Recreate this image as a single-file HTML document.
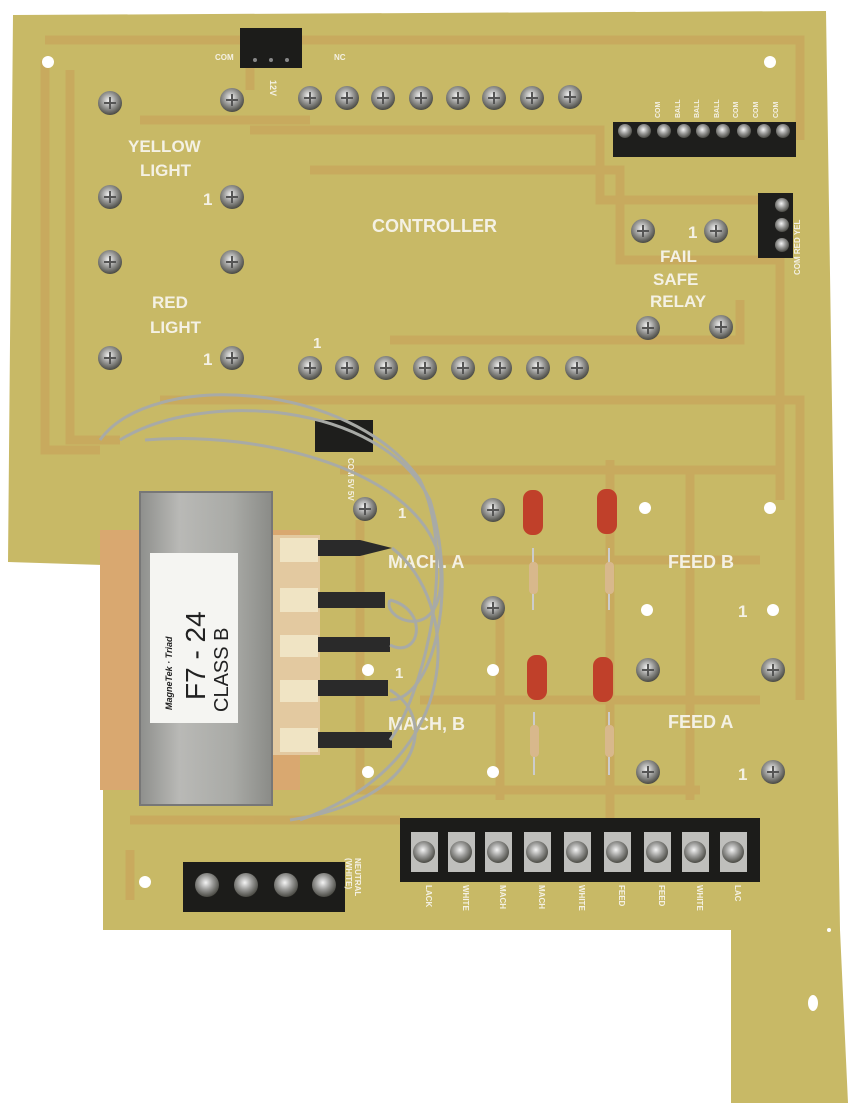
<!DOCTYPE html>
<html><head><meta charset="utf-8"><style>
html,body{margin:0;padding:0;background:#fff;}
svg{display:block}
text{font-family:"Liberation Sans",sans-serif;font-weight:bold;fill:#f4f1e4}
</style></head><body>
<svg width="854" height="1106" viewBox="0 0 854 1106" xmlns="http://www.w3.org/2000/svg">
<defs>
<radialGradient id="scr" cx="45%" cy="40%" r="60%">
<stop offset="0" stop-color="#f4f4f4"/><stop offset="0.5" stop-color="#9a9a98"/><stop offset="1" stop-color="#4a4a44"/>
</radialGradient>
<linearGradient id="metal" x1="0" y1="0" x2="1" y2="0">
<stop offset="0" stop-color="#8e8f8c"/><stop offset="0.3" stop-color="#b9b9b6"/><stop offset="0.7" stop-color="#a9aaa6"/><stop offset="1" stop-color="#8a8b87"/>
</linearGradient>
<g id="s"><circle r="12" fill="url(#scr)"/><path d="M-6 0H6M0 -6V6" stroke="#555" stroke-width="2"/></g>
<g id="h"><circle r="6" fill="#fff"/></g>
</defs>
<polygon points="13,15 826,11 840,930 848,1103 731,1103 731,930 103,930 103,565 8,562" fill="#c8b966"/>
<g fill="none" stroke="#c99a55" stroke-width="9" opacity="0.45">
<path d="M45 40 H800 V140"/>
<path d="M70 70 V440 H120"/>
<path d="M45 60 V450 H100"/>
<path d="M250 60 V90 M250 130 H600 V200 H760"/>
<path d="M140 120 H310 M310 170 H620 V260 H780 V500"/>
<path d="M160 400 H800 V700"/>
<path d="M390 340 H740 V300"/>
<path d="M340 470 H780 M360 520 V790 H700"/>
<path d="M420 560 H760 M420 700 H760 M500 600 V800"/>
<path d="M610 460 V820 M690 470 V800"/>
<path d="M130 820 H400 M130 850 V900"/>
</g>
<rect x="240" y="28" width="62" height="40" fill="#1c1c1a"/>
<circle cx="255" cy="60" r="2" fill="#888"/><circle cx="271" cy="60" r="2" fill="#888"/><circle cx="287" cy="60" r="2" fill="#888"/>
<text x="215" y="60" font-size="8">COM</text><text x="334" y="60" font-size="8">NC</text>
<text x="0" y="0" font-size="9" transform="translate(270,80) rotate(90)">12V</text>
<g>
<use href="#s" x="110" y="103"/><use href="#s" x="232" y="100"/>
<use href="#s" x="110" y="197"/><use href="#s" x="232" y="197"/>
<use href="#s" x="110" y="262"/><use href="#s" x="232" y="262"/>
<use href="#s" x="110" y="358"/><use href="#s" x="232" y="358"/>
<use href="#s" x="310" y="98"/><use href="#s" x="347" y="98"/><use href="#s" x="383" y="98"/><use href="#s" x="421" y="98"/><use href="#s" x="458" y="98"/><use href="#s" x="494" y="98"/><use href="#s" x="532" y="98"/><use href="#s" x="570" y="97"/>
<use href="#s" x="310" y="368"/><use href="#s" x="347" y="368"/><use href="#s" x="386" y="368"/><use href="#s" x="425" y="368"/><use href="#s" x="463" y="368"/><use href="#s" x="500" y="368"/><use href="#s" x="538" y="368"/><use href="#s" x="577" y="368"/>
<use href="#s" x="643" y="231"/><use href="#s" x="716" y="231"/><use href="#s" x="648" y="328"/><use href="#s" x="721" y="327"/>
<use href="#s" x="365" y="509"/><use href="#s" x="493" y="510"/><use href="#s" x="493" y="608"/>
<use href="#s" x="648" y="670"/><use href="#s" x="773" y="670"/><use href="#s" x="648" y="772"/><use href="#s" x="773" y="772"/>
</g>
<g>
<use href="#h" x="48" y="62"/><use href="#h" x="770" y="62"/><use href="#h" x="770" y="508"/><use href="#h" x="645" y="508"/>
<use href="#h" x="647" y="610"/><use href="#h" x="773" y="610"/><use href="#h" x="493" y="670"/><use href="#h" x="368" y="670"/>
<use href="#h" x="493" y="772"/><use href="#h" x="368" y="772"/><use href="#h" x="145" y="882"/>
<ellipse cx="813" cy="1003" rx="5" ry="8" fill="#fff"/><circle cx="829" cy="930" r="2" fill="#fff"/>
</g>
<text x="128" y="152" font-size="17">YELLOW</text><text x="140" y="176" font-size="17">LIGHT</text>
<text x="203" y="205" font-size="17">1</text><text x="203" y="365" font-size="17">1</text>
<text x="152" y="308" font-size="17">RED</text><text x="150" y="333" font-size="17">LIGHT</text>
<text x="372" y="232" font-size="18">CONTROLLER</text>
<text x="313" y="348" font-size="15">1</text>
<text x="688" y="238" font-size="17">1</text>
<text x="660" y="262" font-size="17">FAIL</text><text x="653" y="285" font-size="17">SAFE</text><text x="650" y="307" font-size="17">RELAY</text>
<text x="388" y="568" font-size="18">MACH.  A</text><text x="388" y="730" font-size="18">MACH,  B</text>
<text x="668" y="568" font-size="18">FEED  B</text><text x="668" y="728" font-size="18">FEED  A</text>
<text x="398" y="518" font-size="15">1</text><text x="738" y="617" font-size="17">1</text>
<text x="395" y="678" font-size="15">1</text><text x="738" y="780" font-size="17">1</text>
<rect x="613" y="122" width="183" height="35" fill="#1e1e1c"/>
<g fill="url(#scr)">
<circle cx="625" cy="131" r="7"/><circle cx="644" cy="131" r="7"/><circle cx="664" cy="131" r="7"/><circle cx="684" cy="131" r="7"/><circle cx="703" cy="131" r="7"/><circle cx="723" cy="131" r="7"/><circle cx="744" cy="131" r="7"/><circle cx="764" cy="131" r="7"/><circle cx="783" cy="131" r="7"/>
</g>
<g font-size="7">
<text transform="translate(660,118) rotate(-90)">COM</text><text transform="translate(680,118) rotate(-90)">BALL</text><text transform="translate(699,118) rotate(-90)">BALL</text><text transform="translate(719,118) rotate(-90)">BALL</text><text transform="translate(738,118) rotate(-90)">COM</text><text transform="translate(758,118) rotate(-90)">COM</text><text transform="translate(778,118) rotate(-90)">COM</text>
</g>
<rect x="758" y="193" width="35" height="65" fill="#1e1e1c"/>
<g fill="url(#scr)"><circle cx="782" cy="205" r="7"/><circle cx="782" cy="225" r="7"/><circle cx="782" cy="245" r="7"/></g>
<text font-size="8" transform="translate(800,275) rotate(-90)">COM RED YEL</text>
<rect x="315" y="420" width="58" height="32" fill="#1e1e1c"/>
<text font-size="8" transform="translate(348,458) rotate(90)">COM 5V 5V</text>
<g fill="#c0402a">
<rect x="523" y="490" width="20" height="45" rx="9"/><rect x="597" y="489" width="20" height="45" rx="9"/>
<rect x="527" y="655" width="20" height="45" rx="9"/><rect x="593" y="657" width="20" height="45" rx="9"/>
</g>
<g stroke="#ccc" stroke-width="2"><path d="M533 548V610M609 548V610M534 712V775M609 712V775"/></g>
<g fill="#d8b88c"><rect x="529" y="562" width="9" height="32" rx="4"/><rect x="605" y="562" width="9" height="32" rx="4"/><rect x="530" y="725" width="9" height="32" rx="4"/><rect x="605" y="725" width="9" height="32" rx="4"/></g>
<rect x="100" y="530" width="200" height="260" fill="#d9a870"/>
<rect x="270" y="535" width="50" height="220" fill="#e3c9a0"/>
<g fill="#f0e4c4"><rect x="280" y="538" width="38" height="24"/><rect x="280" y="588" width="38" height="24"/><rect x="280" y="635" width="38" height="22"/><rect x="280" y="680" width="38" height="22"/><rect x="280" y="728" width="38" height="24"/></g>
<g fill="#2a2a2a">
<path d="M318 540H360L392 548L360 556H318Z"/><path d="M318 592H385V608H318Z"/><path d="M318 637H390V652H318Z"/><path d="M318 680H388V696H318Z"/><path d="M318 732H392V748H318Z"/>
</g>
<rect x="140" y="492" width="132" height="313" fill="url(#metal)" stroke="#777" stroke-width="2"/>
<rect x="150" y="553" width="88" height="170" fill="#f5f5f2"/>
<text font-size="9" style="fill:#222;font-style:italic" transform="translate(172,710) rotate(-90)">MagneTek · Triad</text>
<text font-size="28" style="fill:#222;font-weight:normal" transform="translate(205,700) rotate(-90)">F7 - 24</text>
<text font-size="20" style="fill:#222;font-weight:normal" transform="translate(228,712) rotate(-90)">CLASS B</text>
<g fill="none" stroke="#a8aaa6" stroke-width="3">
<path d="M100 440 C150 370 350 380 420 480 C460 560 420 700 390 740"/>
<path d="M120 440 C200 390 380 400 430 500 C460 600 430 700 390 700"/>
<path d="M145 440 C260 430 420 470 440 560 C450 650 380 620 390 600"/>
<path d="M390 600 C430 610 420 660 390 645"/>
<path d="M390 690 C440 720 420 800 290 820"/>
<path d="M392 548 C460 600 470 760 300 820"/>
</g>
<rect x="183" y="862" width="162" height="50" fill="#1c1c1a"/>
<g fill="url(#scr)"><circle cx="207" cy="885" r="12"/><circle cx="246" cy="885" r="12"/><circle cx="286" cy="885" r="12"/><circle cx="324" cy="885" r="12"/></g>
<text font-size="8" transform="translate(355,858) rotate(90)">NEUTRAL</text><text font-size="8" transform="translate(346,858) rotate(90)">(WHITE)</text>
<rect x="400" y="818" width="360" height="64" fill="#1c1c1a"/>
<g fill="#bfbfbc"><rect x="411" y="832" width="27" height="40"/><rect x="448" y="832" width="27" height="40"/><rect x="485" y="832" width="27" height="40"/><rect x="524" y="832" width="27" height="40"/><rect x="564" y="832" width="27" height="40"/><rect x="604" y="832" width="27" height="40"/><rect x="644" y="832" width="27" height="40"/><rect x="682" y="832" width="27" height="40"/><rect x="720" y="832" width="27" height="40"/></g>
<g fill="url(#scr)"><circle cx="424" cy="852" r="11"/><circle cx="461" cy="852" r="11"/><circle cx="498" cy="852" r="11"/><circle cx="537" cy="852" r="11"/><circle cx="577" cy="852" r="11"/><circle cx="617" cy="852" r="11"/><circle cx="657" cy="852" r="11"/><circle cx="695" cy="852" r="11"/><circle cx="733" cy="852" r="11"/></g>
<g font-size="8">
<text transform="translate(426,885) rotate(90)">LACK</text><text transform="translate(463,885) rotate(90)">WHITE</text><text transform="translate(500,885) rotate(90)">MACH</text><text transform="translate(539,885) rotate(90)">MACH</text><text transform="translate(579,885) rotate(90)">WHITE</text><text transform="translate(619,885) rotate(90)">FEED</text><text transform="translate(659,885) rotate(90)">FEED</text><text transform="translate(697,885) rotate(90)">WHITE</text><text transform="translate(735,885) rotate(90)">LAC</text>
</g>
</svg>
</body></html>
